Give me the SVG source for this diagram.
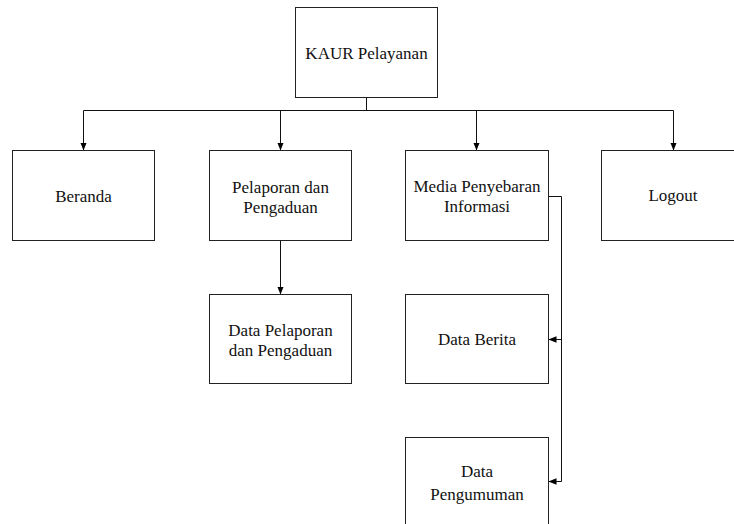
<svg xmlns="http://www.w3.org/2000/svg" width="734" height="524" viewBox="0 0 734 524">
  <defs>
    <marker id="arrow" viewBox="0 0 8 8" refX="8" refY="4" markerWidth="8" markerHeight="8" markerUnits="userSpaceOnUse" orient="auto">
      <path d="M0,0.8 L8,4 L0,7.2 Z" fill="#000"/>
    </marker>
  </defs>
  <style>
    .box { fill: #fff; stroke: #222; stroke-width: 1; }
    .lbl { font-size: 17px; fill: #111; text-anchor: middle; }
    .wire { fill: none; stroke: #111; stroke-width: 1; }
  </style>
  <rect width="734" height="524" fill="#fff"/>

  <g id="connectors">
    <path class="wire" d="M366.5,97.5 V110.5"/>
    <path class="wire" d="M83.5,110.5 H673.5"/>
    <path class="wire" marker-end="url(#arrow)" d="M83.5,110.5 V150.5"/>
    <path class="wire" marker-end="url(#arrow)" d="M280.5,110.5 V150.5"/>
    <path class="wire" marker-end="url(#arrow)" d="M476.5,110.5 V150.5"/>
    <path class="wire" marker-end="url(#arrow)" d="M673.5,110.5 V150.5"/>
    <path class="wire" marker-end="url(#arrow)" d="M280.5,240.5 V294.5"/>
    <path class="wire" d="M548.5,196.5 H561.5 V481.5"/>
    <path class="wire" marker-end="url(#arrow)" d="M561.5,339.5 H548.5"/>
    <path class="wire" marker-end="url(#arrow)" d="M561.5,481.5 H548.5"/>
  </g>

  <g font-family="Liberation Serif, DejaVu Serif, serif">
    <g id="kaur-pelayanan">
      <rect class="box" x="295.5" y="7.5" width="142" height="90"/>
      <text class="lbl" x="366.5" y="59">KAUR Pelayanan</text>
    </g>

    <g id="beranda">
      <rect class="box" x="12.5" y="150.5" width="142" height="90"/>
      <text class="lbl" x="83.5" y="201.5">Beranda</text>
    </g>

    <g id="pelaporan-pengaduan">
      <rect class="box" x="209.5" y="150.5" width="142" height="90"/>
      <text class="lbl" x="280.5" y="193">Pelaporan dan</text>
      <text class="lbl" x="280.5" y="213">Pengaduan</text>
    </g>

    <g id="media-penyebaran">
      <rect class="box" x="405.5" y="150.5" width="143" height="90"/>
      <text class="lbl" x="477" y="192">Media Penyebaran</text>
      <text class="lbl" x="477" y="212">Informasi</text>
    </g>

    <g id="logout">
      <rect class="box" x="601.5" y="150.5" width="143" height="90"/>
      <text class="lbl" x="673" y="201">Logout</text>
    </g>

    <g id="data-pelaporan">
      <rect class="box" x="209.5" y="294.5" width="142" height="89"/>
      <text class="lbl" x="280.5" y="336">Data Pelaporan</text>
      <text class="lbl" x="280.5" y="356">dan Pengaduan</text>
    </g>

    <g id="data-berita">
      <rect class="box" x="405.5" y="294.5" width="143" height="89"/>
      <text class="lbl" x="477" y="345">Data Berita</text>
    </g>

    <g id="data-pengumuman">
      <rect class="box" x="405.5" y="437.5" width="143" height="100"/>
      <text class="lbl" x="477" y="477">Data</text>
      <text class="lbl" x="477" y="500">Pengumuman</text>
    </g>
  </g>
</svg>
